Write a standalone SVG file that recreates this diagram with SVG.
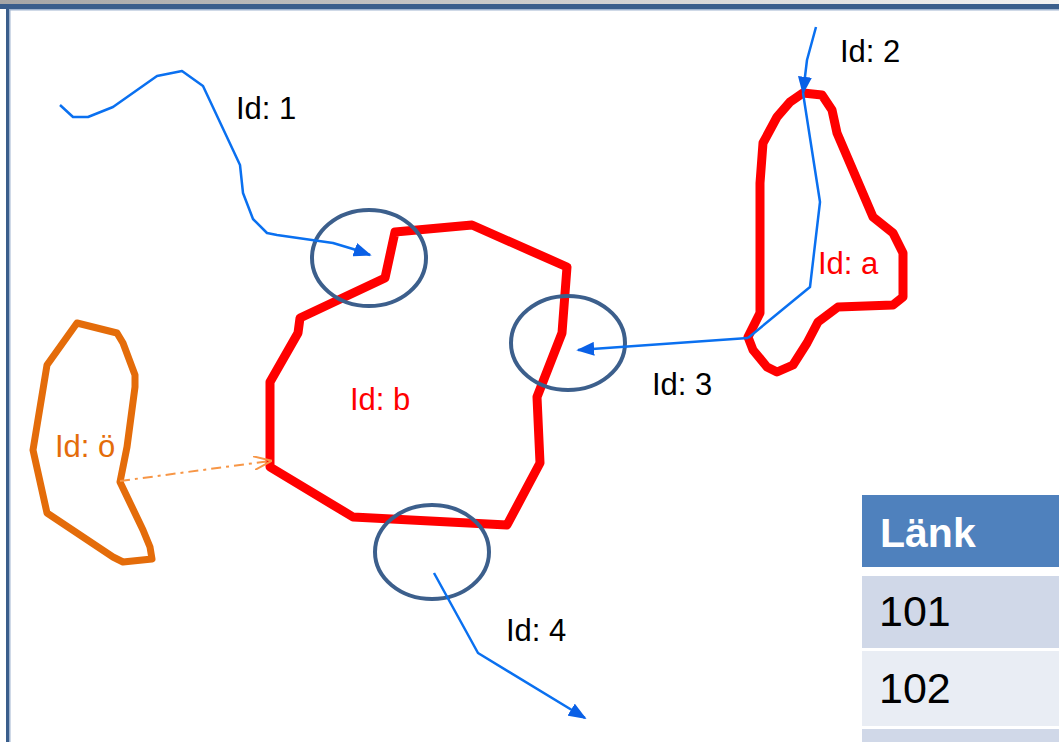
<svg xmlns="http://www.w3.org/2000/svg" width="1059" height="742" viewBox="0 0 1059 742">
<style>
.lbl{font-family:"Liberation Sans",Arial,sans-serif;font-size:31px;fill:#000}
.red{fill:#ff0000}
.org{fill:#e46c0a}
.area{fill:none;stroke-linejoin:round;stroke-linecap:round}
.ring{fill:none;stroke:#3c5f8c;stroke-width:4}
.link{fill:none;stroke:#0a70f0;stroke-width:2.5;stroke-linejoin:round}
.tbl{font-family:"Liberation Sans",Arial,sans-serif;font-size:43px;fill:#000}
</style>
<defs>
<linearGradient id="topg" x1="0" y1="0" x2="1" y2="0">
<stop offset="0" stop-color="#a6a6a6"/>
<stop offset="1" stop-color="#f2f2f2"/>
</linearGradient>
<marker id="ab" viewBox="0 0 10 10" refX="9" refY="5" markerWidth="18" markerHeight="14" markerUnits="userSpaceOnUse" orient="auto" preserveAspectRatio="none">
<path d="M0,0 L10,5 L0,10 z" fill="#0a60e6"/>
</marker>
<marker id="ao" viewBox="0 0 10 10" refX="9" refY="5" markerWidth="18" markerHeight="14" markerUnits="userSpaceOnUse" orient="auto" preserveAspectRatio="none">
<path d="M0,0 L10,5 L0,10" fill="none" stroke="#f79646" stroke-width="1.3"/>
</marker>
</defs>

<g id="frame">
<rect x="0" y="0" width="1059" height="742" fill="#ffffff"/>
<rect x="0" y="0" width="1059" height="4" fill="url(#topg)"/>
<rect x="0" y="4" width="1059" height="5" fill="#3a5e8c"/>
<rect x="9" y="9" width="1050" height="1.5" fill="#9fb4d0"/>
<rect x="6" y="4" width="3" height="738" fill="#3a5e8c"/>
<rect x="9" y="9" width="1.5" height="733" fill="#9fb4d0"/>
</g>

<g id="area-b">
<polygon class="area" stroke="#ff0000" stroke-width="9" points="395,232 472,225 567,267 562,333 537,397 540,463 507,525 353,517 270,467 270,382 298,333 300,318 385,278"/>
<text class="lbl red" x="350" y="410">Id: b</text>
</g>

<g id="area-a">
<polygon class="area" stroke="#ff0000" stroke-width="9" points="803,93 822,95 832,110 837,133 873,217 893,233 903,253 903,297 893,305 838,307 818,322 807,343 793,365 777,372 767,367 753,350 748,337 760,313 760,183 763,143 777,117 790,102"/>
<text class="lbl red" x="818" y="274">Id: a</text>
</g>

<g id="area-o">
<polygon class="area" stroke="#e46c0a" stroke-width="7" points="77,323 117,333 123,343 135,375 135,387 127,447 120,482 143,530 150,547 152,559 123,562 113,557 47,513 33,450 47,365"/>
<text class="lbl org" x="55" y="457">Id: ö</text>
</g>

<g id="rings">
<ellipse id="ring-1" class="ring" cx="369" cy="258" rx="57" ry="48"/>
<ellipse id="ring-2" class="ring" cx="568" cy="343" rx="57" ry="47"/>
<ellipse id="ring-3" class="ring" cx="432" cy="552" rx="57" ry="47"/>
</g>

<g id="connectors">
<path id="link-1" class="link" marker-end="url(#ab)" d="M60,105 L73,117 L88,117 L113,107 L157,76 L182,71 L203,86 L233,150 L240,165 L243,193 L253,219 L267,233 L277,235 L333,243 L353,249 L370,255"/>
<path id="link-2" class="link" marker-end="url(#ab)" d="M816,27 L807,60 L803,93"/>
<path id="link-2b" class="link" d="M803,93 L820,202 L810,287 L748,338"/>
<path id="link-3" class="link" marker-end="url(#ab)" d="M748,338 L578,350"/>
<path id="link-4" class="link" marker-end="url(#ab)" d="M434,573 L478,653 L585,718"/>
<path id="link-o" fill="none" stroke="#f79646" stroke-width="2" stroke-dasharray="10,5,3,5" marker-end="url(#ao)" d="M120,481 L270,461"/>
</g>

<g id="labels">
<text class="lbl" x="236" y="119">Id: 1</text>
<text class="lbl" x="840" y="62">Id: 2</text>
<text class="lbl" x="652" y="395">Id: 3</text>
<text class="lbl" x="506" y="641">Id: 4</text>
</g>

<g id="table">
<rect x="862" y="495" width="197" height="72" fill="#4f81bd"/>
<rect x="862" y="576" width="197" height="72" fill="#d0d8e8"/>
<rect x="862" y="651" width="197" height="75" fill="#e9edf4"/>
<rect x="862" y="729" width="197" height="13" fill="#d0d8e8"/>
<text x="880" y="547" font-family="'Liberation Sans',Arial,sans-serif" font-size="41" font-weight="bold" fill="#ffffff">Länk</text>
<text class="tbl" x="879" y="626">101</text>
<text class="tbl" x="879" y="703">102</text>
</g>
</svg>
